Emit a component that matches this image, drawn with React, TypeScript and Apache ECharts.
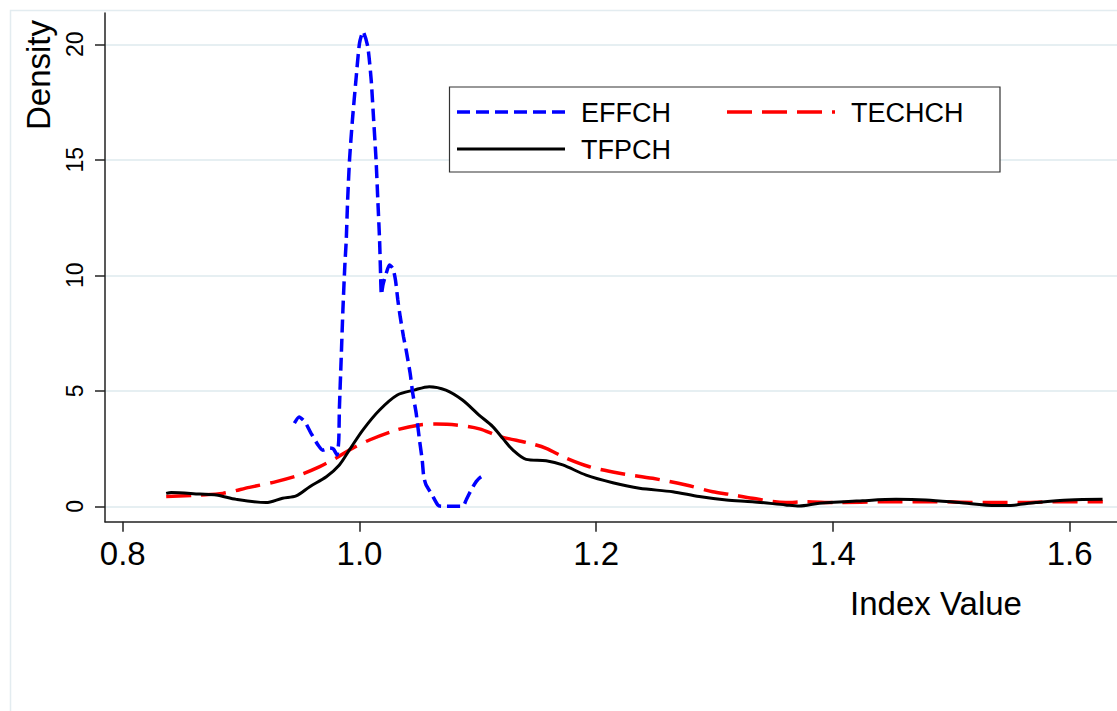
import React, { useEffect, useRef } from "react";
import * as echarts from "echarts";

const xTicks = [0.8, 1.0, 1.2, 1.4, 1.6];
const yTicks = [0, 5, 10, 15, 20];

const effchX = [0.945, 0.949, 0.954, 0.959, 0.965, 0.969, 0.975, 0.978, 0.981, 0.9825, 0.983, 0.9845, 0.986, 0.9876, 0.9888, 0.99, 0.9916, 0.994, 0.997, 1.0, 1.003, 1.007, 1.0099, 1.012, 1.014, 1.0155, 1.017, 1.0178, 1.0185, 1.0198, 1.0226, 1.0253, 1.0282, 1.0304, 1.0324, 1.0344, 1.0372, 1.0394, 1.0428, 1.045, 1.0479, 1.0507, 1.053, 1.0543, 1.0563, 1.0606, 1.0661, 1.069, 1.0873, 1.0901, 1.0943, 1.0986, 1.1028, 1.107];
const effchY = [3.6, 3.87, 3.65, 3.17, 2.65, 2.43, 2.52, 2.48, 2.22, 2.87, 4.17, 6.33, 8.5, 10.4, 11.5, 13.26, 15.0, 16.7, 18.45, 20.04, 20.55, 19.9, 18.45, 16.7, 15.0, 13.26, 11.5, 10.1, 9.15, 9.58, 10.09, 10.45, 10.3, 9.8, 8.93, 8.21, 7.34, 6.77, 5.76, 4.89, 4.03, 2.87, 2.0, 1.28, 0.92, 0.56, 0.06, 0, 0, 0.27, 0.7, 1.07, 1.28, 1.35];

const techchX = [0.8367, 0.865, 0.8845, 0.907, 0.9296, 0.949, 0.966, 0.98, 0.9915, 1.0084, 1.031, 1.0507, 1.0648, 1.0817, 1.1014, 1.118, 1.1436, 1.1577, 1.1746, 1.1943, 1.2197, 1.2477, 1.276, 1.2984, 1.3125, 1.332, 1.36, 1.377, 1.4026, 1.445, 1.487, 1.5293, 1.557, 1.5856, 1.628];
const techchY = [0.42, 0.49, 0.56, 0.82, 1.07, 1.35, 1.71, 2.08, 2.44, 2.87, 3.3, 3.52, 3.56, 3.52, 3.35, 3.03, 2.73, 2.51, 2.08, 1.71, 1.43, 1.21, 0.92, 0.63, 0.52, 0.35, 0.16, 0.2, 0.16, 0.2, 0.2, 0.16, 0.16, 0.2, 0.2];

const tfpchX = [0.8367, 0.841, 0.865, 0.879, 0.896, 0.921, 0.935, 0.9465, 0.958, 0.972, 0.983, 0.9915, 1.0028, 1.017, 1.032, 1.046, 1.059, 1.073, 1.087, 1.101, 1.1126, 1.121, 1.1295, 1.1408, 1.1577, 1.1717, 1.1915, 1.214, 1.2365, 1.2646, 1.287, 1.31, 1.332, 1.36, 1.3716, 1.3885, 1.425, 1.4533, 1.4786, 1.5067, 1.5378, 1.546, 1.5715, 1.5997, 1.6278];
const tfpchY = [0.56, 0.6, 0.53, 0.49, 0.3, 0.16, 0.35, 0.45, 0.85, 1.28, 1.79, 2.44, 3.3, 4.17, 4.82, 5.03, 5.18, 5.03, 4.6, 3.95, 3.45, 2.94, 2.44, 2.03, 1.97, 1.79, 1.35, 1.02, 0.78, 0.63, 0.42, 0.27, 0.2, 0.06, 0.01, 0.13, 0.24, 0.3, 0.27, 0.16, 0.03, 0.03, 0.16, 0.27, 0.3];

const zip = (xs: number[], ys: number[]) => xs.map((x, i) => [x, ys[i]]);

const FONT = "'Liberation Sans', Arial, Helvetica, sans-serif";
const BLUE_DASH = [13, 6];
const RED_DASH = [25, 10];

export default function App() {
  const ref = useRef<HTMLDivElement>(null);
  useEffect(() => {
    if (!ref.current) return;
    const chart = echarts.init(ref.current, undefined, { renderer: "svg" });
    const legendText = (x: number, y: number, t: string) => ({
      type: "text",
      x,
      y,
      style: { text: t, fontSize: 27, fontFamily: FONT, fill: "#000", verticalAlign: "middle", align: "left" },
    });
    const legendLine = (x1: number, y: number, color: string, dash: number[] | null, w: number) => ({
      type: "line",
      shape: { x1, y1: y, x2: x1 + 108, y2: y },
      style: { stroke: color, lineWidth: w, lineDash: dash || undefined },
    });
    chart.setOption({
      animation: false,
      backgroundColor: "#ffffff",
      grid: { left: 105, right: 0, top: 13, bottom: 189.3, containLabel: false },
      xAxis: {
        type: "value",
        min: 0.785,
        max: 1.64,
        axisLine: { show: true, onZero: false, lineStyle: { color: "#222", width: 1.5 } },
        axisTick: { show: true, length: 10, customValues: xTicks, lineStyle: { color: "#222", width: 1.5 } },
        axisLabel: {
          customValues: xTicks,
          formatter: (v: number) => v.toFixed(1),
          fontSize: 33,
          fontFamily: FONT,
          color: "#000",
          margin: 15,
        },
        splitLine: { show: false },
      },
      yAxis: {
        type: "value",
        min: -0.667,
        max: 21.355,
        axisLine: { show: true, onZero: false, lineStyle: { color: "#222", width: 1.5 } },
        axisTick: { show: true, length: 10, customValues: yTicks, lineStyle: { color: "#222", width: 1.5 } },
        axisLabel: {
          customValues: yTicks,
          rotate: 90,
          fontSize: 23,
          fontFamily: FONT,
          color: "#000",
          margin: 19,
        },
        splitLine: { show: true, lineStyle: { color: "#e6eff2", width: 2 } },
      },
      series: [
        {
          name: "TECHCH",
          type: "line",
          data: zip(techchX, techchY),
          showSymbol: false,
          smooth: 0.3,
          lineStyle: { color: "#ff0000", width: 3.5, type: RED_DASH },
          z: 2,
        },
        {
          name: "TFPCH",
          type: "line",
          data: zip(tfpchX, tfpchY),
          showSymbol: false,
          smooth: 0.3,
          lineStyle: { color: "#000000", width: 3, type: "solid" },
          z: 3,
        },
        {
          name: "EFFCH",
          type: "line",
          data: zip(effchX, effchY),
          showSymbol: false,
          smooth: 0.2,
          lineStyle: { color: "#0000ff", width: 3.5, type: BLUE_DASH },
          z: 4,
        },
      ],
      graphic: [
        {
          type: "rect",
          shape: { x: 10.5, y: 10.5, width: 1200, height: 800 },
          style: { fill: "none", stroke: "#e3ecf0", lineWidth: 1.5 },
          z: -10,
          silent: true,
        },
        {
          type: "rect",
          shape: { x: 449.5, y: 87, width: 550.5, height: 85 },
          style: { fill: "#ffffff", stroke: "#333", lineWidth: 1.2 },
          z: 10,
        },
        { ...legendLine(457, 112, "#0000ff", BLUE_DASH, 3.5), z: 11 },
        { ...legendText(581, 113, "EFFCH"), z: 11 },
        { ...legendLine(727, 112, "#ff0000", RED_DASH, 3.5), z: 11 },
        { ...legendText(851, 113, "TECHCH"), z: 11 },
        { ...legendLine(457, 149, "#000000", null, 3), z: 11 },
        { ...legendText(581, 150, "TFPCH"), z: 11 },
        {
          type: "text",
          x: 38,
          y: 75,
          rotation: Math.PI / 2,
          style: { text: "Density", fontSize: 33, fontFamily: FONT, fill: "#000", align: "center", verticalAlign: "middle" },
          z: 11,
        },
        {
          type: "text",
          x: 936,
          y: 603,
          style: { text: "Index Value", fontSize: 33, fontFamily: FONT, fill: "#000", align: "center", verticalAlign: "middle" },
          z: 11,
        },
      ],
    });
    return () => chart.dispose();
  }, []);
  return <div ref={ref} style={{ position: "absolute", left: 0, top: 0, width: 1117, height: 711 }} />;
}
